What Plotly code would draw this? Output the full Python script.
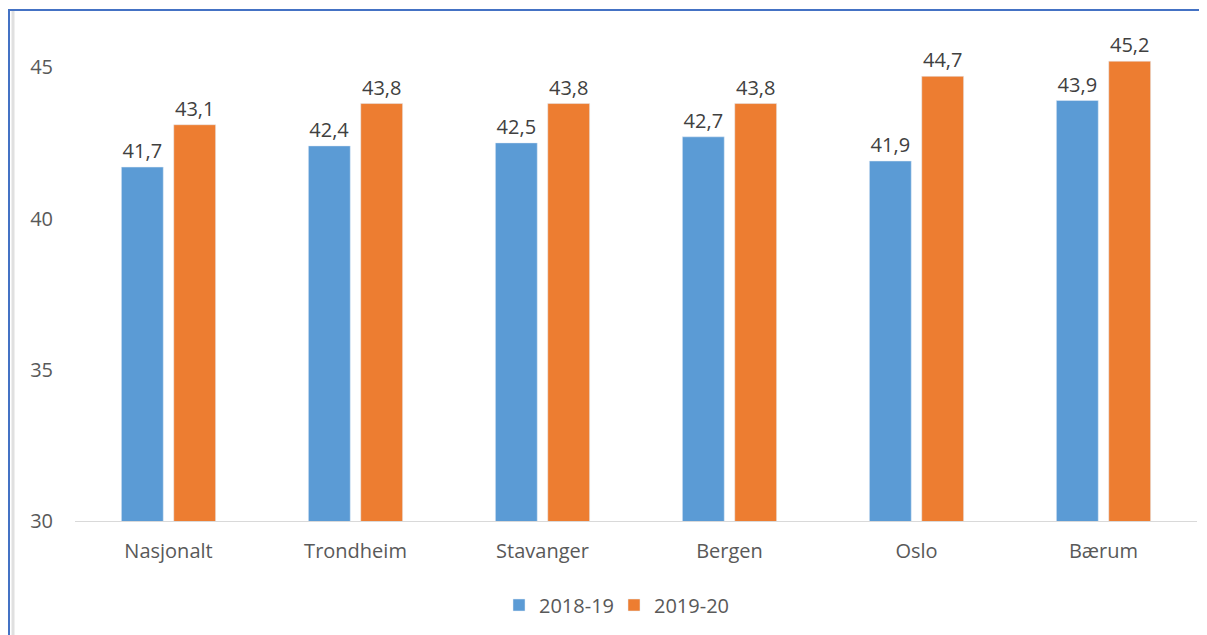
import plotly.graph_objects as go

categories = ["Nasjonalt", "Trondheim", "Stavanger", "Bergen", "Oslo", "Bærum"]
series_names = ["2018-19", "2019-20"]
values_2018 = [41.7, 42.4, 42.5, 42.7, 41.9, 43.9]
values_2019 = [43.1, 43.8, 43.8, 43.8, 44.7, 45.2]
colors = ["#5B9BD5", "#ED7D31"]
y_ticks = [30, 35, 40, 45]

FONT = "Open Sans"

def fmt(v):
    return f"{v:.1f}".replace(".", ",")

fig = go.Figure()
for name, vals, col in zip(series_names, [values_2018, values_2019], colors):
    fig.add_trace(go.Bar(
        x=categories, y=vals, name=name, marker_color=col,
        text=[fmt(v) for v in vals], textposition="outside",
        textfont=dict(size=20, color="#404040", family=FONT),
        cliponaxis=False,
    ))

# page body has an 8px offset; work in page pixels and convert
OFF = 8
W, H = 1207 - OFF, 635 - OFF
L, R, T, B = 75 - OFF, 10, 37 - OFF, 114
pw = W - L - R
ph = H - T - B

def px_x(p):
    return (p - OFF - L) / pw

def px_y(p):
    return (H - B - (p - OFF)) / ph

fig.update_layout(
    width=W, height=H,
    margin=dict(l=L, r=R, t=T, b=B),
    paper_bgcolor="white", plot_bgcolor="white",
    barmode="group", bargap=0.44, bargroupgap=0.2,
    font=dict(family=FONT, color="#595959", size=20),
    legend=dict(orientation="h", x=px_x(614), xanchor="center", y=px_y(605), yanchor="middle",
                font=dict(size=20, color="#595959", family=FONT), itemwidth=30,
                entrywidth=70, entrywidthmode="pixels",
                traceorder="normal"),
    showlegend=True,
    xaxis=dict(showline=True, linecolor="#D9D9D9", linewidth=1, ticks="",
               tickfont=dict(size=20, color="#595959", family=FONT), ticklabelstandoff=12),
    yaxis=dict(range=[30, 46], tickvals=y_ticks, showgrid=False, zeroline=False,
               showline=False, tickfont=dict(size=20, color="#595959", family=FONT),
               ticklabelstandoff=21),
    shapes=[
        dict(type="line", xref="paper", yref="paper", x0=px_x(8), x1=px_x(1207),
             y0=px_y(10), y1=px_y(10), line=dict(color="#4472C4", width=2)),
        dict(type="line", xref="paper", yref="paper", x0=px_x(9), x1=px_x(9),
             y0=px_y(10), y1=px_y(635), line=dict(color="#4472C4", width=2)),
        dict(type="line", xref="paper", yref="paper", x0=px_x(13), x1=px_x(13),
             y0=px_y(11), y1=px_y(635), line=dict(color="#E0E0E0", width=3)),
    ],
)

fig.write_html("out.html")
